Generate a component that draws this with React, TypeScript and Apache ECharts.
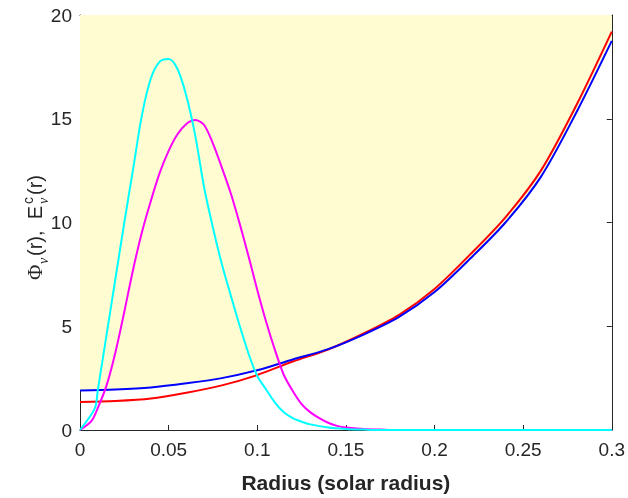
import React, { useEffect, useRef } from "react";
import * as echarts from "echarts";

// Radius grid (solar radius) for the two smooth rising curves
const radius = [0, 0.02, 0.04, 0.06, 0.08, 0.1, 0.12, 0.14, 0.16, 0.18, 0.2, 0.22, 0.24, 0.26, 0.28, 0.3];
const blueY = [1.9, 1.95, 2.05, 2.25, 2.5, 2.88, 3.4, 3.9, 4.6, 5.45, 6.65, 8.25, 10.0, 12.2, 15.3, 18.75];
const redY = [1.35, 1.4, 1.52, 1.8, 2.15, 2.65, 3.3, 3.88, 4.65, 5.55, 6.8, 8.45, 10.25, 12.5, 15.65, 19.2];

// Cyan peak curve
const cyanX = [0, 0.0084, 0.01, 0.015, 0.02, 0.025, 0.03, 0.035, 0.04, 0.045, 0.05, 0.055, 0.06, 0.065, 0.07, 0.075, 0.08, 0.085, 0.09, 0.095, 0.1, 0.105, 0.11, 0.115, 0.12, 0.125, 0.13, 0.14, 0.15, 0.16, 0.17, 0.2, 0.25, 0.3];
const cyanY = [0, 1.05, 1.9, 4.6, 7.3, 10.0, 12.6, 15.2, 16.95, 17.75, 17.88, 17.4, 16.1, 14.2, 11.7, 9.75, 8.0, 6.5, 5.05, 3.7, 2.6, 1.95, 1.32, 0.85, 0.57, 0.4, 0.27, 0.12, 0.05, 0.02, 0, 0, 0, 0];

// Magenta peak curve
const magX = [0, 0.0065, 0.01, 0.015, 0.02, 0.025, 0.03, 0.035, 0.04, 0.045, 0.05, 0.055, 0.06, 0.065, 0.07, 0.075, 0.08, 0.085, 0.09, 0.095, 0.1, 0.105, 0.11, 0.115, 0.12, 0.125, 0.13, 0.135, 0.14, 0.145, 0.15, 0.16, 0.17, 0.18, 0.2, 0.25, 0.3];
const magY = [0, 0.44, 1.05, 2.15, 3.75, 5.7, 7.75, 9.55, 11.05, 12.4, 13.45, 14.25, 14.75, 14.94, 14.7, 13.8, 12.65, 11.42, 9.97, 8.4, 6.75, 5.22, 3.85, 2.65, 1.88, 1.25, 0.85, 0.57, 0.35, 0.2, 0.12, 0.05, 0.02, 0, 0, 0, 0];

const xTicks = { min: 0, max: 0.3, interval: 0.05 };
const yTicks = { min: 0, max: 20, interval: 5 };

const pairs = (xs: number[], ys: number[]) => xs.map((x, i) => [x, ys[i]]);

export default function App() {
  const ref = useRef<HTMLDivElement>(null);
  useEffect(() => {
    if (!ref.current) return;
    const chart = echarts.init(ref.current, null, { renderer: "svg" });
    const txt = "#262626";
    const sans = "Liberation Sans, Arial, sans-serif";
    const serif = "Liberation Serif, DejaVu Serif, serif";
    const blueData = pairs(radius, blueY);
    const fs = 20;
    const frame = {
      axisLine: { show: true, onZero: false, lineStyle: { color: txt, width: 1 } },
      axisTick: { show: true, inside: true, length: 5, lineStyle: { color: txt } },
      splitLine: { show: false },
    };
    chart.setOption({
      animation: false,
      grid: { left: 80, right: 12, top: 15, bottom: 62 },
      xAxis: [
        {
          type: "value", ...xTicks, position: "bottom", ...frame,
          axisLabel: { fontSize: 19, color: txt, fontFamily: sans, margin: 10, formatter: (v: number) => String(+v.toFixed(2)) },
          name: "Radius (solar radius)", nameLocation: "middle", nameGap: 42,
          nameTextStyle: { fontSize: 21, fontWeight: "bold", color: txt, fontFamily: sans },
        },
        { type: "value", ...xTicks, position: "top", ...frame, axisLabel: { show: false } },
      ],
      yAxis: [
        {
          type: "value", ...yTicks, position: "left", ...frame,
          axisLabel: { fontSize: 19, color: txt, fontFamily: sans, margin: 8 },
        },
        { type: "value", ...yTicks, position: "right", ...frame, axisLabel: { show: false } },
      ],
      graphic: [
        {
          type: "group", x: 42, y: 280, rotation: Math.PI / 2,
          children: [
            { type: "text", x: 0, y: -7, style: { text: "Φ", fontSize: 21, fontFamily: serif, fill: txt, verticalAlign: "middle" } },
            { type: "text", x: 16, y: 1, style: { text: "ν", fontSize: 14, fontStyle: "italic", fontFamily: serif, fill: txt, verticalAlign: "middle" } },
            { type: "text", x: 24, y: -7, style: { text: "(r),  E", fontSize: fs, fontFamily: sans, fill: txt, verticalAlign: "middle" } },
            { type: "text", x: 76, y: -14, style: { text: "c", fontSize: 14, fontFamily: sans, fill: txt, verticalAlign: "middle" } },
            { type: "text", x: 76, y: 1, style: { text: "ν", fontSize: 14, fontStyle: "italic", fontFamily: serif, fill: txt, verticalAlign: "middle" } },
            { type: "text", x: 85, y: -7, style: { text: "(r)", fontSize: fs, fontFamily: sans, fill: txt, verticalAlign: "middle" } },
          ],
        },
      ],
      series: [
        {
          type: "line", data: blueData, showSymbol: false, silent: true, smooth: 0.3,
          lineStyle: { width: 0, opacity: 0 },
          areaStyle: { color: "rgb(254,252,208)", origin: "end", opacity: 1 },
          z: 1,
        },
        { type: "line", data: pairs(radius, redY), showSymbol: false, smooth: 0.3, lineStyle: { color: "#ff0000", width: 2 }, z: 2 },
        { type: "line", data: blueData, showSymbol: false, smooth: 0.3, lineStyle: { color: "#0000ff", width: 2 }, z: 3 },
        { type: "line", data: pairs(magX, magY), showSymbol: false, smooth: 0.3, lineStyle: { color: "#ff00ff", width: 2 }, z: 4 },
        { type: "line", data: pairs(cyanX, cyanY), showSymbol: false, smooth: 0.3, lineStyle: { color: "#00ffff", width: 2 }, z: 5 },
      ],
    });
    return () => chart.dispose();
  }, []);
  return <div ref={ref} style={{ position: "fixed", left: 0, top: 0, width: 628, height: 498 }} />;
}
